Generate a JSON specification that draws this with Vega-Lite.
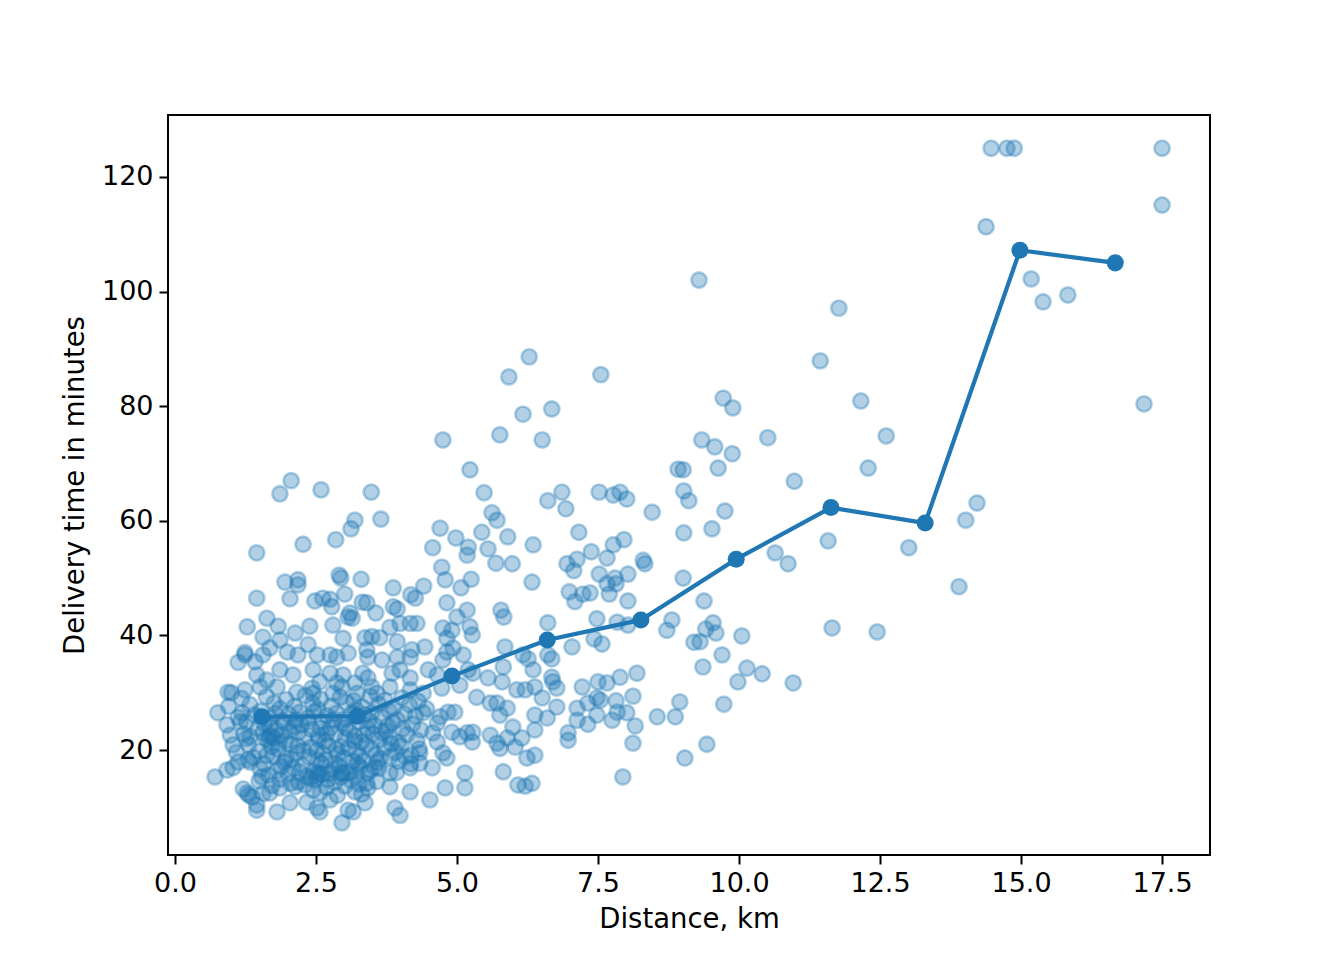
{
  "$schema": "https://vega.github.io/schema/vega-lite/v6.json",
  "width": 1042,
  "height": 740,
  "autosize": {"type": "none"},
  "padding": {"left": 168, "top": 115, "right": 134, "bottom": 105},
  "background": "white",
  "datasets": {
    "deliveries": [
      {"km": 14.47, "min": 125}, {"km": 14.75, "min": 125}, {"km": 14.88, "min": 125}, {"km": 17.5, "min": 125},
      {"km": 14.38, "min": 111.3}, {"km": 17.5, "min": 115.1}, {"km": 9.29, "min": 102.0}, {"km": 15.18, "min": 102.2},
      {"km": 15.39, "min": 98.2}, {"km": 15.83, "min": 99.4}, {"km": 11.77, "min": 97.1}, {"km": 11.44, "min": 87.9},
      {"km": 6.28, "min": 88.6}, {"km": 5.92, "min": 85.1}, {"km": 7.55, "min": 85.5}, {"km": 9.72, "min": 81.4},
      {"km": 9.89, "min": 79.7}, {"km": 12.16, "min": 80.9}, {"km": 17.18, "min": 80.4}, {"km": 6.17, "min": 78.6},
      {"km": 6.68, "min": 79.5}, {"km": 4.75, "min": 74.1}, {"km": 5.76, "min": 75.0}, {"km": 6.51, "min": 74.1},
      {"km": 10.51, "min": 74.5}, {"km": 12.61, "min": 74.8}, {"km": 9.34, "min": 74.1}, {"km": 9.57, "min": 72.9},
      {"km": 9.88, "min": 71.7}, {"km": 9.63, "min": 69.2}, {"km": 8.92, "min": 69.0}, {"km": 9.01, "min": 68.9},
      {"km": 12.29, "min": 69.2}, {"km": 5.23, "min": 68.9}, {"km": 2.06, "min": 67.0}, {"km": 1.86, "min": 64.7},
      {"km": 2.59, "min": 65.4}, {"km": 3.48, "min": 65.0}, {"km": 5.48, "min": 64.9}, {"km": 6.61, "min": 63.5},
      {"km": 6.86, "min": 65.0}, {"km": 6.93, "min": 62.1}, {"km": 7.52, "min": 65.0}, {"km": 7.77, "min": 64.5},
      {"km": 7.89, "min": 65.0}, {"km": 8.01, "min": 63.8}, {"km": 9.02, "min": 65.2}, {"km": 9.11, "min": 63.5},
      {"km": 5.62, "min": 61.4}, {"km": 5.71, "min": 60.1}, {"km": 8.46, "min": 61.5}, {"km": 9.75, "min": 61.7},
      {"km": 10.98, "min": 66.9}, {"km": 14.22, "min": 63.1}, {"km": 14.02, "min": 60.1}, {"km": 13.01, "min": 55.3},
      {"km": 11.58, "min": 56.5}, {"km": 10.64, "min": 54.4}, {"km": 10.87, "min": 52.5}, {"km": 13.9, "min": 48.5},
      {"km": 9.52, "min": 58.6}, {"km": 9.02, "min": 57.9}, {"km": 9.38, "min": 46.0}, {"km": 9.54, "min": 42.2},
      {"km": 9.41, "min": 41.1}, {"km": 9.59, "min": 40.4}, {"km": 10.05, "min": 39.9}, {"km": 11.65, "min": 41.3},
      {"km": 12.45, "min": 40.6}, {"km": 9.7, "min": 36.6}, {"km": 9.36, "min": 34.5}, {"km": 10.14, "min": 34.3},
      {"km": 10.41, "min": 33.3}, {"km": 9.98, "min": 31.9}, {"km": 10.96, "min": 31.7}, {"km": 9.73, "min": 28.0},
      {"km": 9.43, "min": 21.0}, {"km": 9.31, "min": 38.9}, {"km": 9.04, "min": 18.6}, {"km": 7.94, "min": 15.3},
      {"km": 8.12, "min": 21.2}, {"km": 6.97, "min": 21.7},
      {"km": 3.19, "min": 60.1}, {"km": 3.12, "min": 58.6}, {"km": 3.65, "min": 60.3}, {"km": 2.85, "min": 56.7},
      {"km": 2.27, "min": 55.9}, {"km": 1.45, "min": 54.4}, {"km": 4.7, "min": 58.7}, {"km": 4.57, "min": 55.3},
      {"km": 4.98, "min": 57.0}, {"km": 5.44, "min": 58.0}, {"km": 5.9, "min": 57.2}, {"km": 5.2, "min": 55.4},
      {"km": 5.55, "min": 55.1}, {"km": 6.35, "min": 55.8}, {"km": 7.16, "min": 58.0}, {"km": 7.77, "min": 55.8},
      {"km": 7.96, "min": 56.7}, {"km": 7.38, "min": 54.6}, {"km": 5.18, "min": 54.0}, {"km": 8.3, "min": 53.1},
      {"km": 5.69, "min": 52.6}, {"km": 5.98, "min": 52.5}, {"km": 4.73, "min": 51.9}, {"km": 4.79, "min": 49.7},
      {"km": 5.07, "min": 48.3}, {"km": 5.25, "min": 49.8}, {"km": 6.33, "min": 49.3}, {"km": 6.95, "min": 52.5},
      {"km": 7.13, "min": 53.3}, {"km": 7.66, "min": 53.5}, {"km": 8.33, "min": 52.5}, {"km": 7.07, "min": 51.3},
      {"km": 7.52, "min": 50.7}, {"km": 7.8, "min": 50.0}, {"km": 8.03, "min": 50.7}, {"km": 7.66, "min": 49.0},
      {"km": 7.82, "min": 49.0}, {"km": 7.7, "min": 47.2}, {"km": 6.99, "min": 47.6}, {"km": 7.09, "min": 45.9},
      {"km": 7.23, "min": 47.2}, {"km": 7.36, "min": 47.4}, {"km": 8.03, "min": 46.0}, {"km": 9.01, "min": 50.0},
      {"km": 4.82, "min": 45.7}, {"km": 5.18, "min": 44.4}, {"km": 5.78, "min": 44.4}, {"km": 5.83, "min": 43.2},
      {"km": 5.0, "min": 43.2}, {"km": 4.75, "min": 41.3}, {"km": 4.91, "min": 40.9}, {"km": 5.23, "min": 41.5},
      {"km": 5.27, "min": 40.1}, {"km": 6.61, "min": 42.2}, {"km": 7.48, "min": 42.9}, {"km": 7.84, "min": 42.3},
      {"km": 8.03, "min": 41.8}, {"km": 8.81, "min": 42.7}, {"km": 8.72, "min": 40.9}, {"km": 9.2, "min": 38.8},
      {"km": 7.04, "min": 38.0}, {"km": 7.43, "min": 39.4}, {"km": 7.57, "min": 38.5}, {"km": 5.85, "min": 38.0},
      {"km": 4.82, "min": 37.1}, {"km": 4.93, "min": 37.8}, {"km": 5.11, "min": 36.6}, {"km": 6.17, "min": 36.6},
      {"km": 6.26, "min": 35.9}, {"km": 6.61, "min": 36.6}, {"km": 6.68, "min": 35.9}, {"km": 5.82, "min": 34.5},
      {"km": 6.35, "min": 34.0}, {"km": 8.19, "min": 33.4}, {"km": 7.89, "min": 32.7}, {"km": 6.68, "min": 32.7},
      {"km": 6.7, "min": 31.9}, {"km": 6.77, "min": 30.8}, {"km": 5.55, "min": 32.6}, {"km": 7.22, "min": 31.0},
      {"km": 7.5, "min": 31.9}, {"km": 7.66, "min": 31.7}, {"km": 5.2, "min": 34.0}, {"km": 5.28, "min": 33.4},
      {"km": 5.05, "min": 31.3}, {"km": 5.8, "min": 31.9}, {"km": 6.06, "min": 30.5}, {"km": 6.21, "min": 30.5},
      {"km": 6.38, "min": 31.0}, {"km": 8.12, "min": 29.4}, {"km": 8.95, "min": 28.4}, {"km": 7.48, "min": 29.1},
      {"km": 7.54, "min": 28.7}, {"km": 7.82, "min": 28.6}, {"km": 6.51, "min": 29.1}, {"km": 5.35, "min": 29.2},
      {"km": 5.59, "min": 28.2}, {"km": 5.71, "min": 28.2}, {"km": 6.77, "min": 27.5}, {"km": 5.89, "min": 27.3},
      {"km": 4.84, "min": 26.6}, {"km": 4.96, "min": 26.6}, {"km": 7.13, "min": 27.3}, {"km": 7.32, "min": 28.2},
      {"km": 7.84, "min": 26.6}, {"km": 8.01, "min": 26.5}, {"km": 7.48, "min": 26.1}, {"km": 8.55, "min": 25.8},
      {"km": 8.87, "min": 25.8}, {"km": 6.38, "min": 26.1}, {"km": 6.6, "min": 25.6}, {"km": 5.76, "min": 26.1},
      {"km": 7.13, "min": 25.2}, {"km": 7.32, "min": 24.5}, {"km": 7.75, "min": 25.2}, {"km": 8.16, "min": 24.2},
      {"km": 5.99, "min": 24.0}, {"km": 6.38, "min": 23.5}, {"km": 6.97, "min": 23.0}, {"km": 5.59, "min": 22.6},
      {"km": 5.89, "min": 22.1}, {"km": 6.15, "min": 22.1}, {"km": 4.91, "min": 23.1}, {"km": 5.05, "min": 22.3},
      {"km": 5.18, "min": 23.0}, {"km": 5.28, "min": 23.1}, {"km": 5.27, "min": 21.4}, {"km": 5.71, "min": 21.2},
      {"km": 5.76, "min": 20.3}, {"km": 6.03, "min": 20.5}, {"km": 4.75, "min": 19.5}, {"km": 4.82, "min": 18.6},
      {"km": 6.24, "min": 18.6}, {"km": 6.38, "min": 19.1}, {"km": 5.14, "min": 16.0}, {"km": 5.82, "min": 16.2},
      {"km": 6.08, "min": 13.9}, {"km": 6.21, "min": 13.7}, {"km": 6.33, "min": 14.2}, {"km": 4.79, "min": 13.4},
      {"km": 5.14, "min": 13.4},
      {"km": 1.95, "min": 49.3}, {"km": 2.18, "min": 49.7}, {"km": 2.18, "min": 48.8}, {"km": 2.91, "min": 50.5},
      {"km": 2.94, "min": 50.0}, {"km": 3.3, "min": 49.8}, {"km": 3.87, "min": 48.3}, {"km": 4.41, "min": 48.6},
      {"km": 1.45, "min": 46.5}, {"km": 2.04, "min": 46.4}, {"km": 2.48, "min": 46.0}, {"km": 2.62, "min": 46.5},
      {"km": 2.75, "min": 46.3}, {"km": 2.78, "min": 45.0}, {"km": 3.01, "min": 47.2}, {"km": 3.32, "min": 45.8},
      {"km": 3.4, "min": 45.7}, {"km": 3.56, "min": 43.9}, {"km": 3.87, "min": 45.0}, {"km": 3.94, "min": 44.6},
      {"km": 4.18, "min": 47.1}, {"km": 4.26, "min": 46.5}, {"km": 1.63, "min": 43.0}, {"km": 1.28, "min": 41.5},
      {"km": 1.83, "min": 41.6}, {"km": 2.39, "min": 41.6}, {"km": 2.8, "min": 41.8}, {"km": 3.07, "min": 43.2},
      {"km": 1.56, "min": 39.7}, {"km": 1.86, "min": 39.2}, {"km": 2.13, "min": 40.4}, {"km": 3.1, "min": 43.9},
      {"km": 3.14, "min": 43.0}, {"km": 2.98, "min": 39.5}, {"km": 3.37, "min": 39.6}, {"km": 3.49, "min": 39.8},
      {"km": 3.63, "min": 39.6}, {"km": 3.81, "min": 41.4}, {"km": 3.99, "min": 42.1}, {"km": 4.17, "min": 42.1},
      {"km": 4.29, "min": 42.1}, {"km": 3.94, "min": 38.9}, {"km": 4.2, "min": 37.5}, {"km": 4.43, "min": 38.0},
      {"km": 4.82, "min": 39.5}, {"km": 2.52, "min": 36.6}, {"km": 2.75, "min": 36.6}, {"km": 2.87, "min": 36.2},
      {"km": 3.07, "min": 36.9}, {"km": 3.4, "min": 37.5}, {"km": 3.42, "min": 36.2}, {"km": 3.67, "min": 35.7},
      {"km": 3.94, "min": 36.2}, {"km": 4.17, "min": 36.2}, {"km": 4.49, "min": 34.0}, {"km": 4.75, "min": 35.7},
      {"km": 2.45, "min": 34.0}, {"km": 2.75, "min": 33.4}, {"km": 2.98, "min": 33.1}, {"km": 3.33, "min": 33.4},
      {"km": 3.42, "min": 32.6}, {"km": 3.85, "min": 33.4}, {"km": 3.99, "min": 34.0}, {"km": 4.17, "min": 32.6},
      {"km": 4.65, "min": 33.1}, {"km": 2.57, "min": 31.9}, {"km": 2.87, "min": 31.7}, {"km": 2.96, "min": 31.0},
      {"km": 3.19, "min": 31.7}, {"km": 3.49, "min": 31.0}, {"km": 3.81, "min": 31.0}, {"km": 2.45, "min": 29.9},
      {"km": 2.8, "min": 29.9}, {"km": 3.23, "min": 29.9}, {"km": 3.58, "min": 29.9}, {"km": 4.17, "min": 30.5},
      {"km": 4.4, "min": 29.9}, {"km": 4.73, "min": 30.8},
      {"km": 1.24, "min": 37.0}, {"km": 1.24, "min": 36.6}, {"km": 1.68, "min": 37.8}, {"km": 1.12, "min": 35.3},
      {"km": 1.42, "min": 35.4}, {"km": 1.56, "min": 36.6}, {"km": 1.99, "min": 37.1}, {"km": 2.18, "min": 36.6},
      {"km": 2.36, "min": 38.4}, {"km": 1.45, "min": 33.1}, {"km": 1.63, "min": 32.2}, {"km": 1.86, "min": 34.0},
      {"km": 2.09, "min": 33.1}, {"km": 0.94, "min": 30.1}, {"km": 1.24, "min": 30.5}, {"km": 1.51, "min": 31.0},
      {"km": 1.81, "min": 31.0}, {"km": 2.16, "min": 30.1}, {"km": 2.43, "min": 30.8},
      {"km": 0.76, "min": 26.5}, {"km": 1.19, "min": 26.5}, {"km": 0.92, "min": 24.4}, {"km": 0.98, "min": 22.6},
      {"km": 1.03, "min": 20.9}, {"km": 1.33, "min": 22.3}, {"km": 0.71, "min": 15.3}, {"km": 0.92, "min": 16.5},
      {"km": 1.03, "min": 16.9}, {"km": 1.12, "min": 17.9}, {"km": 1.33, "min": 17.9}, {"km": 1.54, "min": 15.3},
      {"km": 1.28, "min": 12.5}, {"km": 1.37, "min": 11.8}, {"km": 1.45, "min": 10.4}, {"km": 1.45, "min": 9.5},
      {"km": 1.81, "min": 9.2}, {"km": 2.04, "min": 10.8}, {"km": 2.34, "min": 10.9}, {"km": 2.52, "min": 9.9},
      {"km": 1.68, "min": 12.5}, {"km": 1.86, "min": 13.4}, {"km": 2.13, "min": 13.6}, {"km": 2.45, "min": 13.0},
      {"km": 2.96, "min": 7.3}, {"km": 2.57, "min": 9.2}, {"km": 3.07, "min": 9.5}, {"km": 3.16, "min": 9.2},
      {"km": 3.37, "min": 10.8}, {"km": 3.9, "min": 9.9}, {"km": 3.99, "min": 8.6}, {"km": 4.17, "min": 12.7},
      {"km": 4.52, "min": 11.3}, {"km": 3.81, "min": 13.6}, {"km": 3.42, "min": 13.4}, {"km": 3.19, "min": 12.7},
      {"km": 2.75, "min": 11.3}, {"km": 4.56, "min": 16.9}, {"km": 4.65, "min": 21.4}, {"km": 4.57, "min": 23.0},
      {"km": 4.4, "min": 26.5}, {"km": 4.7, "min": 25.8}, {"km": 4.65, "min": 24.7}, {"km": 4.34, "min": 19.5},
      {"km": 4.34, "min": 17.7}, {"km": 4.17, "min": 16.9}, {"km": 4.08, "min": 18.8}, {"km": 3.81, "min": 18.8},
      {"km": 3.81, "min": 16.0}, {"km": 3.42, "min": 16.0}, {"km": 3.4, "min": 14.2}, {"km": 3.28, "min": 17.0},
      {"km": 3.05, "min": 16.0}, {"km": 2.75, "min": 16.0}, {"km": 2.52, "min": 16.0},
      {"km": 1.62, "min": 29.3}, {"km": 1.97, "min": 28.8}, {"km": 2.31, "min": 29.5}, {"km": 2.58, "min": 28.9},
      {"km": 2.93, "min": 29.2}, {"km": 3.17, "min": 28.6}, {"km": 3.46, "min": 29.4}, {"km": 3.72, "min": 28.7},
      {"km": 4.02, "min": 29.1}, {"km": 4.31, "min": 28.5},
      {"km": 1.33, "min": 27.9}, {"km": 1.76, "min": 28.2}, {"km": 2.12, "min": 27.6}, {"km": 2.44, "min": 28.1},
      {"km": 2.77, "min": 27.7}, {"km": 3.04, "min": 28.3}, {"km": 3.32, "min": 27.5}, {"km": 3.61, "min": 28.0},
      {"km": 3.88, "min": 27.4}, {"km": 4.16, "min": 27.9},
      {"km": 1.52, "min": 26.8}, {"km": 1.86, "min": 27.2}, {"km": 2.21, "min": 26.6}, {"km": 2.53, "min": 27.1},
      {"km": 2.86, "min": 26.4}, {"km": 3.21, "min": 27.0}, {"km": 3.49, "min": 26.5}, {"km": 3.79, "min": 26.9},
      {"km": 4.07, "min": 26.3}, {"km": 4.46, "min": 27.2},
      {"km": 1.12, "min": 25.7}, {"km": 1.41, "min": 26.1}, {"km": 1.69, "min": 25.5}, {"km": 2.02, "min": 26.2},
      {"km": 2.36, "min": 25.6}, {"km": 2.69, "min": 26.0}, {"km": 3.01, "min": 25.4}, {"km": 3.36, "min": 26.2},
      {"km": 3.66, "min": 25.8}, {"km": 3.94, "min": 25.3}, {"km": 4.26, "min": 25.9},
      {"km": 1.27, "min": 24.9}, {"km": 1.58, "min": 24.6}, {"km": 1.91, "min": 25.1}, {"km": 2.24, "min": 24.4},
      {"km": 2.62, "min": 25.0}, {"km": 2.96, "min": 24.7}, {"km": 3.26, "min": 24.9}, {"km": 3.54, "min": 24.3},
      {"km": 3.86, "min": 24.8}, {"km": 4.21, "min": 24.5},
      {"km": 1.47, "min": 23.8}, {"km": 1.79, "min": 23.5}, {"km": 2.11, "min": 24.1}, {"km": 2.42, "min": 23.6},
      {"km": 2.76, "min": 23.9}, {"km": 3.09, "min": 23.4}, {"km": 3.41, "min": 23.8}, {"km": 3.74, "min": 23.3},
      {"km": 4.04, "min": 23.7}, {"km": 4.36, "min": 23.5},
      {"km": 1.22, "min": 22.8}, {"km": 1.56, "min": 23.0}, {"km": 1.89, "min": 22.6}, {"km": 2.19, "min": 23.1},
      {"km": 2.54, "min": 22.5}, {"km": 2.84, "min": 22.9}, {"km": 3.19, "min": 22.4}, {"km": 3.51, "min": 22.8},
      {"km": 3.81, "min": 22.2}, {"km": 4.11, "min": 22.7},
      {"km": 1.61, "min": 21.9}, {"km": 1.96, "min": 21.6}, {"km": 2.29, "min": 22.1}, {"km": 2.66, "min": 21.5},
      {"km": 3.02, "min": 22.0}, {"km": 3.31, "min": 21.4}, {"km": 3.62, "min": 21.8}, {"km": 3.96, "min": 21.3},
      {"km": 4.29, "min": 21.7},
      {"km": 1.31, "min": 20.9}, {"km": 1.71, "min": 20.6}, {"km": 2.03, "min": 21.1}, {"km": 2.41, "min": 20.5},
      {"km": 2.72, "min": 20.8}, {"km": 3.08, "min": 20.3}, {"km": 3.39, "min": 20.9}, {"km": 3.71, "min": 20.4},
      {"km": 4.01, "min": 20.7}, {"km": 4.33, "min": 20.2},
      {"km": 1.49, "min": 19.8}, {"km": 1.83, "min": 20.1}, {"km": 2.16, "min": 19.5}, {"km": 2.51, "min": 19.9},
      {"km": 2.89, "min": 19.3}, {"km": 3.22, "min": 19.7}, {"km": 3.56, "min": 19.2}, {"km": 3.91, "min": 19.6},
      {"km": 4.19, "min": 19.1},
      {"km": 1.39, "min": 18.7}, {"km": 1.74, "min": 18.9}, {"km": 2.06, "min": 18.4}, {"km": 2.37, "min": 18.8},
      {"km": 2.67, "min": 18.2}, {"km": 2.99, "min": 18.6}, {"km": 3.34, "min": 18.1}, {"km": 3.64, "min": 18.5},
      {"km": 3.97, "min": 18.0},
      {"km": 1.58, "min": 17.6}, {"km": 1.94, "min": 17.9}, {"km": 2.26, "min": 17.3}, {"km": 2.59, "min": 17.7},
      {"km": 2.91, "min": 17.2}, {"km": 3.24, "min": 17.5}, {"km": 3.54, "min": 17.0}, {"km": 4.18, "min": 17.6},
      {"km": 1.51, "min": 16.7}, {"km": 1.81, "min": 16.4}, {"km": 2.09, "min": 16.9}, {"km": 2.46, "min": 16.3},
      {"km": 2.79, "min": 16.6}, {"km": 3.11, "min": 16.2}, {"km": 3.61, "min": 16.8}, {"km": 3.93, "min": 16.1},
      {"km": 1.66, "min": 15.6}, {"km": 2.01, "min": 15.9}, {"km": 2.34, "min": 15.4}, {"km": 2.61, "min": 15.7},
      {"km": 2.94, "min": 15.2}, {"km": 3.21, "min": 15.5},
      {"km": 1.49, "min": 14.6}, {"km": 1.86, "min": 14.9}, {"km": 2.19, "min": 14.4}, {"km": 2.49, "min": 14.8},
      {"km": 2.83, "min": 14.3}, {"km": 3.12, "min": 14.7}, {"km": 3.58, "min": 14.5},
      {"km": 1.72, "min": 13.8}, {"km": 2.31, "min": 13.9}, {"km": 2.69, "min": 13.5}, {"km": 3.01, "min": 13.7},
      {"km": 1.56, "min": 12.4}, {"km": 2.58, "min": 12.6}, {"km": 2.88, "min": 12.1}, {"km": 3.31, "min": 12.3},
      {"km": 1.68, "min": 22.4}, {"km": 1.72, "min": 22.6}, {"km": 1.75, "min": 22.1}, {"km": 1.66, "min": 21.9},
      {"km": 2.52, "min": 15.5}, {"km": 2.56, "min": 15.8}, {"km": 2.95, "min": 16.0}, {"km": 2.97, "min": 15.9},
      {"km": 1.0, "min": 30.0}, {"km": 1.18, "min": 29.0}, {"km": 0.95, "min": 27.6}, {"km": 1.16, "min": 24.9},
      {"km": 1.26, "min": 22.0}, {"km": 1.09, "min": 19.6}, {"km": 1.29, "min": 18.3}, {"km": 1.21, "min": 13.2},
      {"km": 1.31, "min": 12.1},
      {"km": 1.78, "min": 26.4}, {"km": 2.14, "min": 25.2}, {"km": 2.47, "min": 26.7}, {"km": 2.82, "min": 25.3},
      {"km": 3.14, "min": 26.4}, {"km": 3.44, "min": 25.1}, {"km": 3.77, "min": 24.2}, {"km": 1.68, "min": 24.1},
      {"km": 2.03, "min": 23.3}, {"km": 2.36, "min": 24.9}, {"km": 2.69, "min": 22.9}, {"km": 3.03, "min": 23.9},
      {"km": 3.35, "min": 22.7}, {"km": 3.67, "min": 23.1}, {"km": 1.84, "min": 21.2}, {"km": 2.18, "min": 20.7},
      {"km": 2.55, "min": 21.9}, {"km": 2.86, "min": 20.1}, {"km": 3.18, "min": 21.6}, {"km": 3.49, "min": 20.1},
      {"km": 3.83, "min": 21.1}, {"km": 1.63, "min": 19.1}, {"km": 1.97, "min": 18.6}, {"km": 2.28, "min": 19.9},
      {"km": 2.62, "min": 19.4}, {"km": 2.95, "min": 20.6}, {"km": 3.27, "min": 18.9}, {"km": 3.59, "min": 17.9},
      {"km": 1.88, "min": 17.1}, {"km": 2.21, "min": 16.2}, {"km": 2.53, "min": 18.2}, {"km": 2.85, "min": 17.6},
      {"km": 3.15, "min": 18.1}, {"km": 3.46, "min": 16.4}, {"km": 2.05, "min": 14.2}, {"km": 2.4, "min": 15.0},
      {"km": 2.72, "min": 14.9}, {"km": 3.26, "min": 14.1}, {"km": 1.95, "min": 24.6}, {"km": 2.58, "min": 23.8}
    ],
    "binned": [
      {"km": 1.54, "min": 25.8}, {"km": 3.23, "min": 25.9}, {"km": 4.91, "min": 32.9}, {"km": 6.6, "min": 39.2},
      {"km": 8.26, "min": 42.7}, {"km": 9.95, "min": 53.3}, {"km": 11.63, "min": 62.3}, {"km": 13.3, "min": 59.6},
      {"km": 14.98, "min": 107.2}, {"km": 16.67, "min": 105.0}
    ]
  },
  "encoding": {
    "x": {
      "field": "km",
      "type": "quantitative",
      "scale": {"domain": [-0.124, 18.35], "nice": false, "zero": false},
      "axis": {"values": [0, 2.5, 5, 7.5, 10, 12.5, 15, 17.5], "format": ".1f", "title": "Distance, km"}
    },
    "y": {
      "field": "min",
      "type": "quantitative",
      "scale": {"domain": [1.68, 130.8], "nice": false, "zero": false},
      "axis": {"values": [20, 40, 60, 80, 100, 120], "title": "Delivery time in minutes"}
    }
  },
  "layer": [
    {
      "data": {"name": "deliveries"},
      "mark": {
        "type": "point",
        "shape": "circle",
        "filled": false,
        "fill": "#1f77b4",
        "stroke": "#1f77b4",
        "fillOpacity": 0.35,
        "strokeOpacity": 0.35,
        "strokeWidth": 2.6,
        "size": 235
      }
    },
    {
      "data": {"name": "binned"},
      "mark": {"type": "line", "color": "#1f77b4", "strokeWidth": 4.2}
    },
    {
      "data": {"name": "binned"},
      "mark": {"type": "circle", "color": "#1f77b4", "opacity": 1, "size": 290}
    }
  ],
  "config": {
    "view": {"stroke": "black", "strokeWidth": 2},
    "axis": {
      "domain": false,
      "grid": false,
      "ticks": true,
      "tickColor": "black",
      "tickSize": 9,
      "tickWidth": 2,
      "labelFont": "DejaVu Sans",
      "labelFontSize": 27,
      "labelColor": "black",
      "labelPadding": 6,
      "titleFont": "DejaVu Sans",
      "titleFontSize": 27.5,
      "titleFontWeight": "normal",
      "titleColor": "black"
    },
    "axisX": {"titlePadding": 9, "labelFlush": false},
    "axisY": {"titlePadding": 12, "labelFlush": false}
  }
}
